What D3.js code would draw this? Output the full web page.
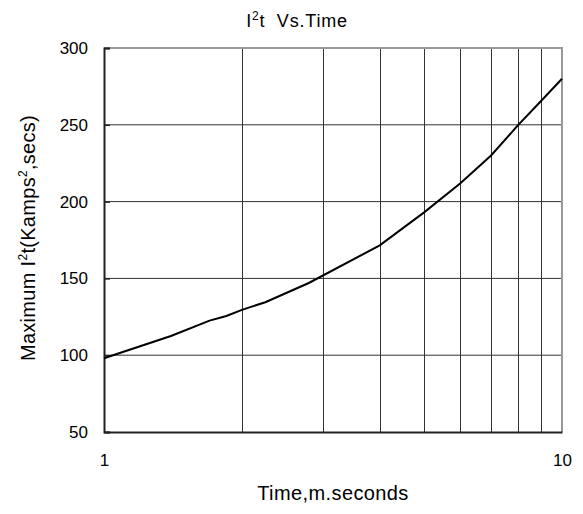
<!DOCTYPE html>
<html>
<head>
<meta charset="utf-8">
<script src="https://cdn.jsdelivr.net/npm/d3@7"></script>
<style>
  body { margin: 0; background: #fff; }
  text { font-family: "Liberation Sans", Arial, sans-serif; fill: #000; }
</style>
</head>
<body>
<div id="chart"></div>
<script>
// curve: time (ms) vs max I2t (kA^2 s)
var times  = [1, 1.4, 1.7, 1.85, 2, 2.25, 2.8, 4, 5, 6, 7, 8, 9, 10];
var i2t    = [98, 112.5, 122.5, 125.5, 129.5, 134.5, 147, 171.5, 193, 212, 230, 249.5, 265.5, 280];
var yTicks = [50, 100, 150, 200, 250, 300];
var xGrid  = [2, 3, 4, 5, 6, 7, 8, 9];
var xTicks = [1, 10];

var W = 583, H = 514;
var margin = { top: 48, right: 21, bottom: 82, left: 104 },
    width = W - margin.left - margin.right,
    height = H - margin.top - margin.bottom;

var svg = d3.select("#chart").append("svg")
    .attr("width", W)
    .attr("height", H);

var g = svg.append("g")
    .attr("transform", "translate(" + margin.left + "," + margin.top + ")");

var x = d3.scaleLog().domain([1, 10]).range([0, width]);
var y = d3.scaleLinear().domain([50, 300]).range([height, 0]);

// grid
g.append("g").selectAll("line.h")
    .data(yTicks.filter(function(d) { return d > 50 && d < 300; }))
  .enter().append("line")
    .attr("x1", 0).attr("x2", width)
    .attr("y1", function(d) { return y(d); })
    .attr("y2", function(d) { return y(d); })
    .attr("stroke", "#333").attr("stroke-width", 1);

g.append("g").selectAll("line.v")
    .data(xGrid)
  .enter().append("line")
    .attr("x1", function(d) { return Math.round(x(d)) + 0.5; })
    .attr("x2", function(d) { return Math.round(x(d)) + 0.5; })
    .attr("y1", 0).attr("y2", height)
    .attr("stroke", "#333").attr("stroke-width", 1);

// top / right frame in grey
g.append("path")
    .attr("d", "M0,0H" + width + "V" + height)
    .attr("fill", "none")
    .attr("stroke", "#999")
    .attr("stroke-width", 2);

// y axis
var yAxis = g.append("g")
    .call(d3.axisLeft(y).tickValues(yTicks).tickSize(-6).tickPadding(16));
yAxis.select(".domain").attr("stroke", "#222").attr("stroke-width", 2);
yAxis.selectAll(".tick line").attr("stroke", "#222").attr("stroke-width", 1.5);
yAxis.selectAll("text").style("font-size", "17px").attr("fill", "#000");

// x axis
var xAxis = g.append("g")
    .attr("transform", "translate(0," + height + ")")
    .call(d3.axisBottom(x).tickValues(xTicks).tickSize(0).tickPadding(22)
      .tickFormat(d3.format("d")));
xAxis.select(".domain").attr("stroke", "#222").attr("stroke-width", 2);
xAxis.selectAll("text").style("font-size", "17px").attr("fill", "#000");

// the curve
var data = times.map(function(t, i) { return { t: t, v: i2t[i] }; });
var line = d3.line()
    .x(function(d) { return x(d.t); })
    .y(function(d) { return y(d.v); });

g.append("path")
    .datum(data)
    .attr("d", line)
    .attr("fill", "none")
    .attr("stroke", "#000")
    .attr("stroke-width", 2);

// title
var title = svg.append("text")
    .attr("x", 297).attr("y", 27)
    .attr("text-anchor", "middle")
    .style("font-size", "18px")
    .style("letter-spacing", "0.8px")
    .style("white-space", "pre");
title.append("tspan").text("I");
title.append("tspan").attr("dy", -7).style("font-size", "12px").text("2");
title.append("tspan").attr("dy", 7).text("t  Vs.Time");

// x label
svg.append("text")
    .attr("x", margin.left + width / 2).attr("y", 500)
    .attr("text-anchor", "middle")
    .style("font-size", "20px")
    .style("letter-spacing", "0.4px")
    .text("Time,m.seconds");

// y label
var ylab = svg.append("text")
    .attr("transform", "translate(35," + (margin.top + height / 2 - 2) + ") rotate(-90)")
    .attr("text-anchor", "middle")
    .style("font-size", "20px")
    .style("letter-spacing", "0.3px");
ylab.append("tspan").text("Maximum I");
ylab.append("tspan").attr("dy", -8).style("font-size", "12px").text("2");
ylab.append("tspan").attr("dy", 8).text("t(Kamps");
ylab.append("tspan").attr("dy", -8).style("font-size", "12px").text("2");
ylab.append("tspan").attr("dy", 8).text(",secs)");
</script>
</body>
</html>
